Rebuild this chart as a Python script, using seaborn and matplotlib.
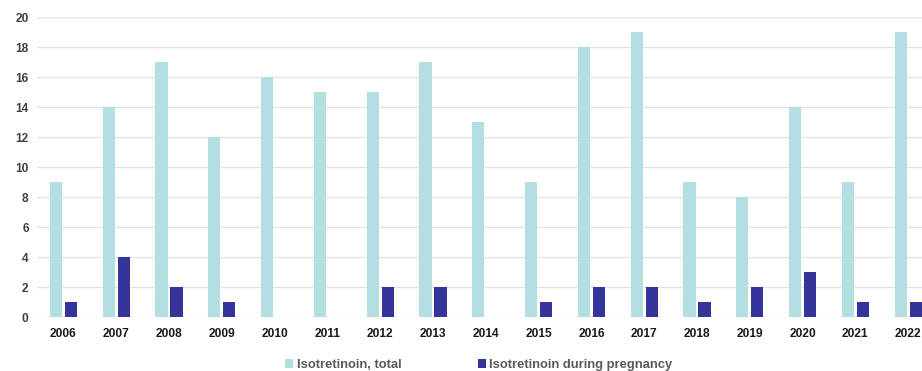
import matplotlib
matplotlib.use("Agg")
import matplotlib.pyplot as plt
import seaborn as sns
import pandas as pd
from matplotlib.patches import Patch

years = ["2006", "2007", "2008", "2009", "2010", "2011", "2012", "2013", "2014",
         "2015", "2016", "2017", "2018", "2019", "2020", "2021", "2022"]
total = [9, 14, 17, 12, 16, 15, 15, 17, 13, 9, 18, 19, 9, 8, 14, 9, 19]
pregnancy = [1, 4, 2, 1, 0, 0, 2, 2, 0, 1, 2, 2, 1, 2, 3, 1, 1]
series_names = ["Isotretinoin, total", "Isotretinoin during pregnancy"]
colors = ["#b3dfe2", "#34349a"]

df = pd.DataFrame({
    "year": years * 2,
    "count": total + pregnancy,
    "series": [series_names[0]] * len(years) + [series_names[1]] * len(years),
})

sns.set_theme(style="white")
plt.rcParams["font.family"] = ["Liberation Sans", "DejaVu Sans"]

fig = plt.figure(figsize=(9.22, 3.71), dpi=100)
ax = fig.add_axes([37 / 922, 1 - 317.3 / 371, 897.6 / 922, 300 / 371])

sns.barplot(data=df, x="year", y="count", hue="series", palette=colors,
            width=0.57, gap=0.18, order=years, hue_order=series_names,
            legend=False, ax=ax, saturation=1, linewidth=0)

ax.set_ylim(0, 20)
ax.set_yticks(range(0, 21, 2))
ax.set_xlim(-0.5, len(years) - 0.5)
ax.yaxis.grid(True, color="#e3e3e3", linewidth=1)
ax.set_axisbelow(True)
for s in ax.spines.values():
    s.set_visible(False)
ax.set_xlabel("")
ax.set_ylabel("")
ax.tick_params(axis="x", length=0, pad=8, labelsize=8.6, labelcolor="#1a1a1a")
ax.tick_params(axis="y", length=0, pad=6, labelsize=8.6, labelcolor="#404040")
for lbl in ax.get_xticklabels():
    lbl.set_fontweight("bold")
for lbl in ax.get_yticklabels():
    lbl.set_fontweight("bold")

handles = [Patch(facecolor=c, edgecolor="none") for c in colors]
fig.legend(handles, series_names, loc="center", bbox_to_anchor=(479 / 922, 1 - 365 / 371),
           ncol=2, frameon=False, handlelength=0.6, handleheight=0.6, handletextpad=0.25,
           columnspacing=5.9, prop={"size": 9.4, "weight": "bold"}, labelcolor="#5a5a5a")

fig.savefig("out.png", dpi=100)
